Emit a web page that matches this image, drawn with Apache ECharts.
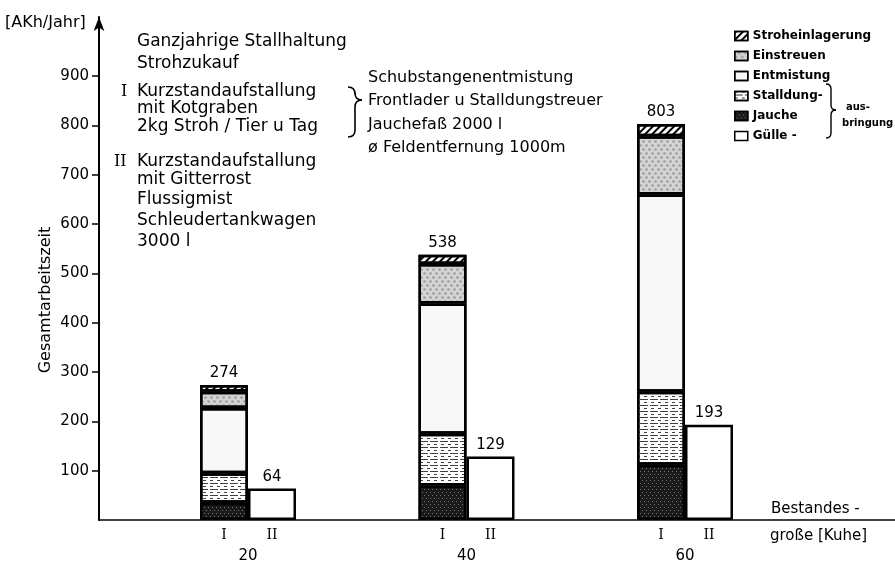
<!DOCTYPE html>
<html><head><meta charset="utf-8">
<script src="https://cdn.jsdelivr.net/npm/echarts@6/dist/echarts.min.js"></script>
<style>html,body{margin:0;padding:0;background:#fff}#c{width:895px;height:562px}</style>
</head><body><div id="c"></div>
<script>
// ---- data ----
const herdLabels = ['20', '40', '60'];
const jauche = [35, 70, 112];
const stalldung = [60, 105, 148];
const entmistung = [132, 264, 400];
const einstreuen = [33, 80, 118];
const stroheinlagerung = [14, 19, 25];
const guelle = [64, 129, 193];
const yTicks = [100, 200, 300, 400, 500, 600, 700, 800, 900];
const legendNames = ['Stroheinlagerung', 'Einstreuen', 'Entmistung', 'Stalldung-', 'Jauche', 'Gülle -'];

const totalsI = herdLabels.map((_, i) => jauche[i] + stalldung[i] + entmistung[i] + einstreuen[i] + stroheinlagerung[i]);

const FONT = 'DejaVu Sans';
const border = { borderColor: '#000', borderWidth: 2.5 };

function barI(name, arr, color, decal, extra) {
  return Object.assign({
    name, type: 'bar', stack: 'I', barWidth: 48, barGap: '0%',
    xAxisIndex: 0, yAxisIndex: 0,
    data: arr,
    itemStyle: Object.assign({ color, decal }, border),
    emphasis: { disabled: true }
  }, extra || {});
}

const series = [
  barI('Jauche', jauche, '#1a1a1a',
    { symbol: 'rect', symbolSize: 1, color: 'rgba(255,255,255,0.4)', dashArrayX: [[1, 3], [0, 2, 1, 1]], dashArrayY: [1, 2] },
    { label: { show: true, position: 'bottom', distance: 8, formatter: 'I', fontFamily: 'DejaVu Serif', fontSize: 14, color: '#000' } }),
  barI('Stalldung-', stalldung, '#ffffff',
    { symbol: 'rect', symbolSize: 1, color: 'rgba(0,0,0,0.75)', dashArrayX: [[8, 2], [3, 4]], dashArrayY: [1, 2] }),
  barI('Entmistung', entmistung, '#f8f8f8',
    { symbol: 'rect', symbolSize: 1, color: 'rgba(0,0,0,0.35)', dashArrayX: [1, 5], dashArrayY: [[7, 4], [3, 6]] }),
  barI('Einstreuen', einstreuen, '#d4d4d4',
    { symbol: 'circle', symbolSize: 0.9, color: 'rgba(120,120,120,0.6)', dashArrayX: [[3, 3], [0, 3, 3, 0]], dashArrayY: [3, 1] }),
  barI('Stroheinlagerung', stroheinlagerung, '#ffffff',
    { symbol: 'rect', symbolSize: 1, color: '#000', dashArrayX: [1, 0], dashArrayY: [2, 3], rotation: -Math.PI / 4 },
    { label: { show: true, position: 'top', distance: 4, formatter: p => totalsI[p.dataIndex], fontFamily: FONT, fontSize: 15, color: '#000' } }),
  {
    name: 'II', type: 'bar', stack: 'II', barWidth: 48, barGap: '0%',
    xAxisIndex: 0, yAxisIndex: 0,
    data: guelle.map(() => 0),
    itemStyle: { color: 'rgba(0,0,0,0)', borderWidth: 0 },
    label: { show: true, position: 'bottom', distance: 8, formatter: 'II', fontFamily: 'DejaVu Serif', fontSize: 14, color: '#000' },
    emphasis: { disabled: true }
  },
  {
    name: 'Gülle -', type: 'bar', stack: 'II', barWidth: 48, barGap: '0%',
    xAxisIndex: 0, yAxisIndex: 0,
    data: guelle,
    itemStyle: Object.assign({ color: '#ffffff' }, border),
    label: { show: true, position: 'top', distance: 4, fontFamily: FONT, fontSize: 15, color: '#000' },
    emphasis: { disabled: true }
  }
];

function brace(x0, y1, ym, y2, w, lw) {
  const xm = x0 + w / 2, d = w / 2;
  const st = { stroke: '#000', lineWidth: lw, fill: null };
  const bz = (x1, y1_, cx, cy, x2, y2_) => ({ type: 'bezierCurve', silent: true, shape: { x1, y1: y1_, cpx1: cx, cpy1: cy, x2, y2: y2_ }, style: st });
  const ln = (x1, y1_, x2, y2_) => ({ type: 'line', silent: true, shape: { x1, y1: y1_, x2, y2: y2_ }, style: st });
  return [
    bz(x0, y1, xm, y1, xm, y1 + d),
    ln(xm, y1 + d, xm, ym - d),
    bz(xm, ym - d, xm, ym, x0 + w, ym),
    bz(x0 + w, ym, xm, ym, xm, ym + d),
    ln(xm, ym + d, xm, y2 - d),
    bz(xm, y2 - d, xm, y2, x0, y2)
  ];
}
function txt(text, x, y, size, extra) {
  return { type: 'text', x, y, silent: true,
    style: Object.assign({ text, fontFamily: FONT, fontSize: size, fill: '#000', verticalAlign: 'middle', align: 'left' }, extra || {}) };
}

const leftLines = [
  ['Ganzjahrige Stallhaltung', 42], ['Strohzukauf', 64], ['Kurzstandaufstallung', 92],
  ['mit Kotgraben', 109], ['2kg Stroh / Tier u Tag', 127], ['Kurzstandaufstallung', 162],
  ['mit Gitterrost', 180], ['Flussigmist', 200], ['Schleudertankwagen', 221], ['3000 l', 242]
];
const rightLines = [
  ['Schubstangenentmistung', 78], ['Frontlader u Stalldungstreuer', 101],
  ['Jauchefaß 2000 l', 125], ['ø Feldentfernung 1000m', 148]
];

const yTitle = txt('Gesamtarbeitszeit', 46, 300, 16, { align: 'center' });
yTitle.rotation = Math.PI / 2;

const graphic = [
  txt('[AKh/Jahr]', 5, 23, 16),
  yTitle,
  txt('I', 121, 92, 16, { fontFamily: 'DejaVu Serif' }),
  txt('II', 114, 162, 16, { fontFamily: 'DejaVu Serif' }),
  txt('Bestandes -', 771, 509, 15),
  txt('große [Kuhe]', 770, 536, 15),
  txt('aus-', 846, 107, 10, { fontWeight: 'bold' }),
  txt('bringung', 842, 123, 10, { fontWeight: 'bold' })
].concat(brace(348, 87, 100, 137, 14, 1.6))
 .concat(brace(826, 84, 110, 138, 10, 1.4))
 .concat(leftLines.map(l => txt(l[0], 137, l[1], 17)))
 .concat(rightLines.map(l => txt(l[0], 368, l[1], 16)));

const chart = echarts.init(document.getElementById('c'), null, { renderer: 'canvas' });
chart.setOption({
  animation: false,
  backgroundColor: '#fff',
  grid: [
    { left: 138.75, right: 100.75, top: 17, bottom: 42, containLabel: false, outerBoundsMode: 'none' },
    { left: 99, right: 0, top: 17, bottom: 42, containLabel: false, outerBoundsMode: 'none' }
  ],
  xAxis: [
    {
      type: 'category', gridIndex: 0, data: herdLabels,
      axisLine: { show: false }, axisTick: { show: false }, splitLine: { show: false },
      axisLabel: { margin: 29, fontFamily: FONT, fontSize: 15, color: '#000' }
    },
    {
      type: 'value', gridIndex: 1, min: 0, max: 1,
      axisLine: { show: true, lineStyle: { color: '#000', width: 1.5 } },
      axisTick: { show: false }, axisLabel: { show: false }, splitLine: { show: false }
    }
  ],
  yAxis: [
    { type: 'value', gridIndex: 0, min: 0, max: 1020, show: false },
    {
      type: 'value', gridIndex: 1, min: 0, max: 1020,
      axisLine: { show: true, symbol: ['none', 'arrow'], symbolSize: [8, 14], lineStyle: { color: '#000', width: 2 } },
      axisTick: { show: true, customValues: yTicks, length: 7, lineStyle: { color: '#000', width: 1.5 } },
      axisLabel: { customValues: yTicks, margin: 10, fontFamily: FONT, fontSize: 15, color: '#000' },
      splitLine: { show: false }
    }
  ],
  legend: {
    data: legendNames, orient: 'vertical', left: 729, top: 25,
    itemWidth: 13, itemHeight: 9, itemGap: 8, icon: 'rect',
    itemStyle: { borderColor: '#000', borderWidth: 1.5 },
    textStyle: { fontFamily: FONT, fontSize: 12, fontWeight: 'bold', color: '#000' },
    selectedMode: false
  },
  graphic,
  series
});
</script></body></html>
